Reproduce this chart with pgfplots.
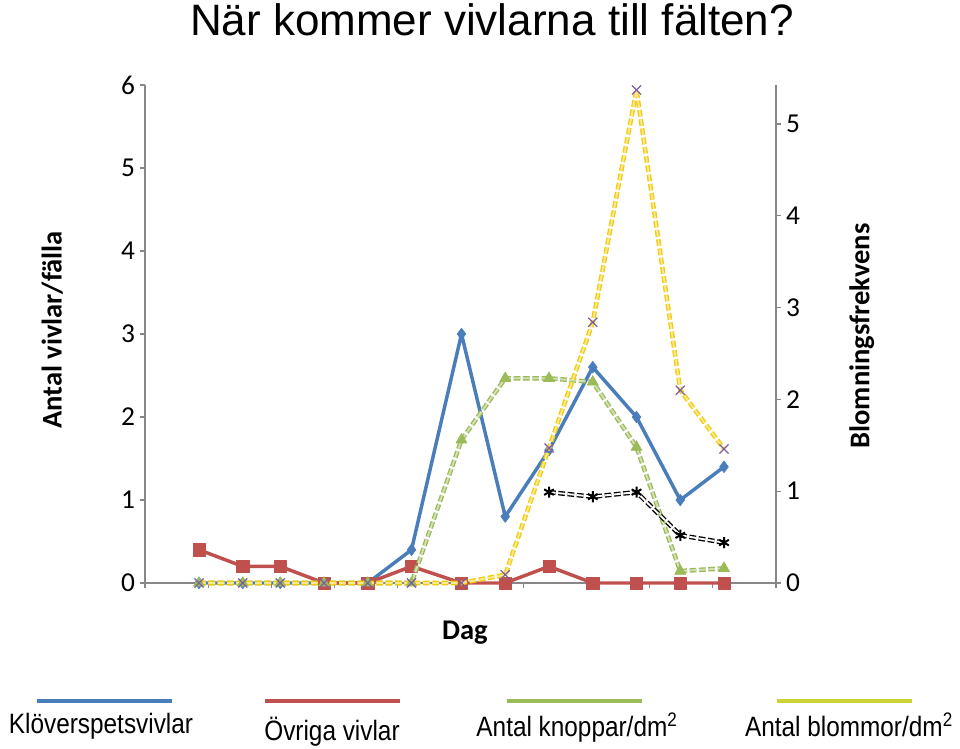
\documentclass[border=0pt]{standalone}
\usepackage{fontspec}
\setmainfont{Liberation Sans}
\newfontfamily\calibri{Carlito}
\newfontfamily\narrow[FakeStretch=0.87]{Liberation Sans}
\usepackage{pgfplots}
\pgfplotsset{compat=1.18}

\definecolor{kblue}{HTML}{4A7EBB}
\definecolor{kred}{HTML}{C0504D}
\definecolor{kgreen}{HTML}{9BBB59}
\definecolor{kyellow}{HTML}{F2CC0C}
\definecolor{kpurple}{HTML}{7E5F9E}
\definecolor{axgray}{HTML}{878787}
\definecolor{legyellow}{HTML}{CDD234}

% x = day of sampling
\pgfplotsset{
  common/.style={
    at={(108.75pt,124.5pt)}, anchor=south west,
    scale only axis, width=473.25pt, height=373.5pt,
    xmin=-8.64, xmax=92.32, ymin=0,
    clip=false,
    tick align=outside, major tick length=4pt,
    tick style={axgray, line width=0.9pt},
    axis line style={axgray, line width=1.6pt},
    tick label style={font=\calibri\fontsize{20.5}{24}\selectfont},
    /pgf/number format/assume math mode=true,
    label style={font=\calibri\bfseries\fontsize{21.4}{25}\selectfont},
  },
  dbl/.style={draw=#1, double=#1!45, double distance=1.4pt, line width=1pt,
    line join=round, dash pattern=on 5pt off 2pt},
}

\begin{document}
\begin{tikzpicture}
\useasboundingbox (0,0) rectangle (720pt,561.75pt);

\begin{axis}[common,
  ymax=6,
  axis x line*=bottom, axis y line*=left,
  xtick={-8.64,1.46,11.55,21.65,31.74,41.84,51.94,62.03,72.13,82.22,92.32},
  xticklabels={},
  ytick={0,1,2,3,4,5,6},
  xlabel={Dag},
  xlabel style={at={(axis description cs:0.507,-0.1)}, anchor=center},
  ylabel={Antal vivlar/fälla},
  ylabel style={at={(axis description cs:-0.147,0.508)}, anchor=center},
]
% Klöverspetsvivlar
\addplot[kblue, line width=2.6pt, line join=round, mark=diamond*, mark size=4.4pt,
  mark options={fill=kblue, line width=0.4pt}] coordinates {
  (0,0) (7,0) (13,0) (20,0) (27,0) (34,0.4) (42,3.0) (49,0.8)
  (56,1.6) (63,2.6) (70,2.0) (77,1.0) (84,1.4)};
% Övriga vivlar
\addplot[kred, line width=2.6pt, line join=round, mark=square*, mark size=4.6pt,
  mark options={fill=kred, line width=0.4pt}] coordinates {
  (0,0.4) (7,0.2) (13,0.2) (20,0) (27,0) (34,0.2) (42,0) (49,0)
  (56,0.2) (63,0) (70,0) (77,0) (84,0)};
\end{axis}

\begin{axis}[common,
  ymax=5.425,
  axis x line=none, axis y line*=right,
  ytick={0,1,2,3,4,5},
  ylabel={Blomningsfrekvens},
  ylabel style={at={(axis description cs:1.136,0.496)}, anchor=center},
]
% Antal knoppar/dm2
\addplot[dbl=kgreen, mark=triangle*, mark size=4.8pt,
  mark options={solid, fill=kgreen, draw=kgreen, line width=0.4pt}] coordinates {
  (0,0) (7,0) (13,0) (20,0) (27,0) (34,0) (42,1.56) (49,2.23)
  (56,2.23) (63,2.19) (70,1.48) (77,0.13) (84,0.16)};
% Antal blommor/dm2
\addplot[dbl=kyellow, mark=x, mark size=4.8pt,
  mark options={solid, draw=kpurple, line width=1pt}] coordinates {
  (0,0) (7,0) (13,0) (20,0) (27,0) (34,0) (42,0) (49,0.09)
  (56,1.47) (63,2.84) (70,5.37) (77,2.10) (84,1.46)};
% fifth series
\addplot[dbl=black, double=white, mark=asterisk, mark size=4.2pt,
  mark options={solid, draw=black, line width=1.5pt}] coordinates {
  (56,0.99) (63,0.94) (70,0.99) (77,0.52) (84,0.44)};
\end{axis}

% title and legend, in the reference's pixel coordinates (y downwards)
\begin{scope}[x=0.75pt, y=-0.75pt, yshift=561.75pt]
\node[anchor=base, font=\fontsize{33}{40}\selectfont, inner sep=0pt] at (492,36) {När kommer vivlarna till fälten?};
\draw[kblue, line width=3.6pt] (37,701) -- (172,701);
\draw[kred, line width=3.6pt] (265,701) -- (400,701);
\draw[kgreen, line width=3.6pt] (507,701) -- (642,701);
\draw[legyellow, line width=3.6pt] (777,701) -- (912,701);
\begin{scope}[every node/.style={anchor=base, inner sep=0pt, font=\narrow\fontsize{21}{25}\selectfont}]
\node at (101,734) {Klöverspetsvivlar};
\node at (332,741) {Övriga vivlar};
\node at (577,737) {Antal knoppar/dm\textsuperscript{2}};
\node at (849,737) {Antal blommor/dm\textsuperscript{2}};
\end{scope}
\end{scope}
\end{tikzpicture}
\end{document}
